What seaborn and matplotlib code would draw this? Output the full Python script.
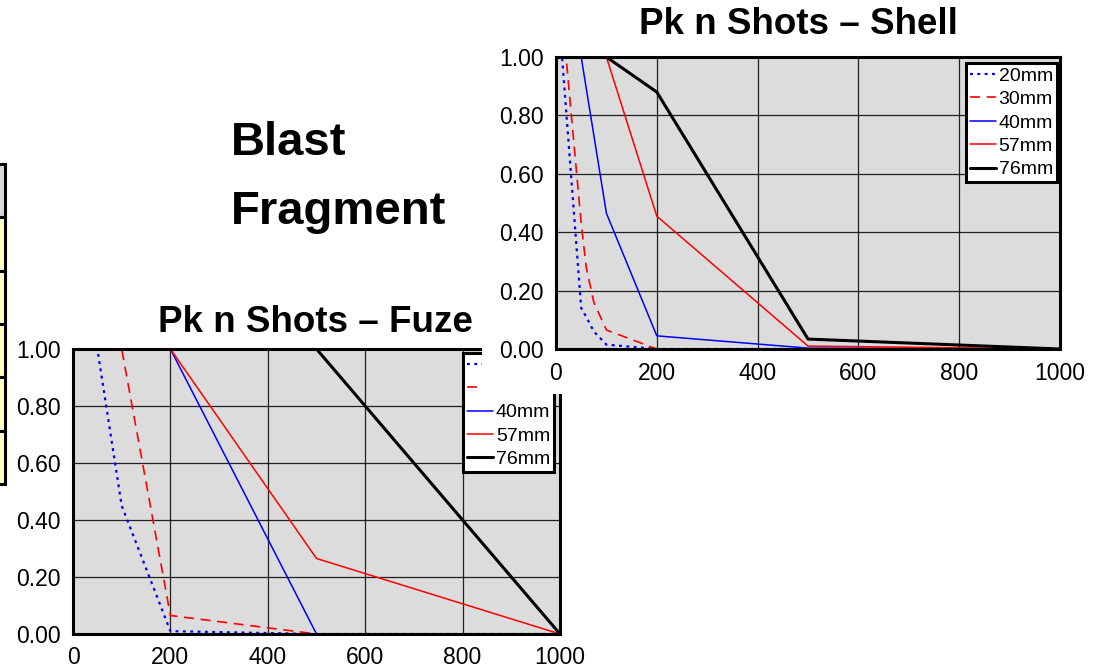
import matplotlib

matplotlib.use("Agg")
import matplotlib.patches as mpatches
import matplotlib.pyplot as plt
import seaborn as sns

# Range (m) vs Pk for n shots.
calibres = ["20mm", "30mm", "40mm", "57mm", "76mm"]

fuze_20mm_x = [0, 50, 100, 200, 500, 1000]
fuze_20mm_pk = [1.00, 1.00, 0.45, 0.01, 0.00, 0.00]
fuze_30mm_x = [0, 100, 200, 500, 1000]
fuze_30mm_pk = [1.00, 1.00, 0.065, 0.00, 0.00]
fuze_40mm_x = [0, 200, 500, 1000]
fuze_40mm_pk = [1.00, 1.00, 0.00, 0.00]
fuze_57mm_x = [0, 200, 500, 1000]
fuze_57mm_pk = [1.00, 1.00, 0.265, 0.00]
fuze_76mm_x = [0, 500, 1000]
fuze_76mm_pk = [1.00, 1.00, 0.00]

shell_20mm_x = [0, 12, 50, 60, 75, 100, 200, 500, 1000]
shell_20mm_pk = [1.00, 1.00, 0.14, 0.11, 0.06, 0.015, 0.00, 0.00, 0.00]
shell_30mm_x = [0, 20, 50, 60, 75, 100, 200, 500, 1000]
shell_30mm_pk = [1.00, 1.00, 0.43, 0.28, 0.16, 0.065, 0.00, 0.00, 0.00]
shell_40mm_x = [0, 50, 100, 200, 500, 1000]
shell_40mm_pk = [1.00, 1.00, 0.465, 0.045, 0.003, 0.00]
shell_57mm_x = [0, 100, 200, 500, 1000]
shell_57mm_pk = [1.00, 1.00, 0.455, 0.01, 0.00]
shell_76mm_x = [0, 100, 200, 500, 1000]
shell_76mm_pk = [1.00, 1.00, 0.88, 0.034, 0.00]

x_ticks = [0, 200, 400, 600, 800, 1000]
y_ticks = [0.0, 0.2, 0.4, 0.6, 0.8, 1.0]

fuze_series = [
    (fuze_20mm_x, fuze_20mm_pk),
    (fuze_30mm_x, fuze_30mm_pk),
    (fuze_40mm_x, fuze_40mm_pk),
    (fuze_57mm_x, fuze_57mm_pk),
    (fuze_76mm_x, fuze_76mm_pk),
]
shell_series = [
    (shell_20mm_x, shell_20mm_pk),
    (shell_30mm_x, shell_30mm_pk),
    (shell_40mm_x, shell_40mm_pk),
    (shell_57mm_x, shell_57mm_pk),
    (shell_76mm_x, shell_76mm_pk),
]

line_styles = {
    "20mm": {"color": "#0000FF", "lw": 1.6, "dashes": (1.3, 2.0)},
    "30mm": {"color": "#FF0000", "lw": 1.2, "dashes": (6.0, 4.0)},
    "40mm": {"color": "#0000FF", "lw": 1.1, "dashes": None},
    "57mm": {"color": "#FF0000", "lw": 1.1, "dashes": None},
    "76mm": {"color": "#000000", "lw": 2.2, "dashes": None},
}

W, H = 1104, 671


def px_box(x0, y0, x1, y1):
    # pixel box (top-left origin) -> figure fraction [left, bottom, width, height]
    return [x0 / W, 1 - y1 / H, (x1 - x0) / W, (y1 - y0) / H]


sns.set_theme(style="ticks")
plt.rcParams["font.family"] = ["Liberation Sans", "DejaVu Sans"]

fig = plt.figure(figsize=(W / 100, H / 100), dpi=100)
fig.patch.set_facecolor("white")


def draw_chart(ax, series, legend_anchor):
    ax.set_facecolor("#DCDCDC")
    for name, (xs, ys) in zip(calibres, series):
        st = line_styles[name]
        line_ax = sns.lineplot(
            x=xs, y=ys, ax=ax, color=st["color"], lw=st["lw"], label=name,
            estimator=None, sort=False, clip_on=True,
        )
        line = line_ax.get_lines()[-1]
        if st["dashes"] is not None:
            line.set_dashes(st["dashes"])
    ax.set_xlim(0, 1000)
    ax.set_ylim(0, 1)
    ax.set_xticks(x_ticks)
    ax.set_yticks(y_ticks)
    ax.set_xticklabels([str(t) for t in x_ticks])
    ax.set_yticklabels(["{:.2f}".format(t) for t in y_ticks])
    ax.grid(True, color="#000000", lw=0.9, alpha=0.85)
    ax.tick_params(length=0, labelsize=16.5, colors="#000000", pad=9)
    for sp in ax.spines.values():
        sp.set_visible(True)
        sp.set_color("#000000")
        sp.set_linewidth(2.2)
    ax.set_xlabel("")
    ax.set_ylabel("")
    leg = ax.legend(
        loc="upper right", bbox_to_anchor=legend_anchor, fontsize=14,
        frameon=True, fancybox=False, framealpha=1.0, borderpad=0.2,
        labelspacing=0.3, handlelength=1.35, handletextpad=0.15,
        borderaxespad=0.0,
    )
    leg.get_frame().set_edgecolor("#000000")
    leg.get_frame().set_linewidth(2.2)
    leg.get_frame().set_facecolor("white")
    for t in leg.get_texts():
        t.set_color("#000000")


# Fuze chart (lower left)
ax_fuze = fig.add_axes(px_box(73, 349, 560, 634))
ax_fuze.set_zorder(0)
draw_chart(ax_fuze, fuze_series, (0.988, 0.986))

# white panel of the Shell chart laid over the Fuze chart
fig.patches.append(
    mpatches.Rectangle(
        (482 / W, 1 - 394 / H), 1 - 482 / W, 394 / H,
        transform=fig.transFigure, facecolor="white", edgecolor="none",
        zorder=1,
    )
)

# Shell chart (upper right)
ax_shell = fig.add_axes(px_box(556, 57, 1060, 349))
ax_shell.set_zorder(2)
draw_chart(ax_shell, shell_series, (0.994, 0.979))

fig.text(798 / W, 1 - 25 / H, "Pk n Shots \u2013 Shell", ha="center",
         va="center", fontsize=26.5, fontweight="bold", color="#000000")
fig.text(315 / W, 1 - 322 / H, "Pk n Shots \u2013 Fuze", ha="center",
         va="center", fontsize=26.5, fontweight="bold", color="#000000",
         zorder=3)

fig.text(231 / W, 1 - 143 / H, "Blast", ha="left", va="center",
         fontsize=34, fontweight="bold", color="#000000")
fig.text(231 / W, 1 - 212 / H, "Fragment", ha="left", va="center",
         fontsize=34, fontweight="bold", color="#000000")

# edge of a table cut off at the left of the slide
row_edges = [164, 217, 271, 324, 377, 431, 484]
for k in range(len(row_edges) - 1):
    top, bottom = row_edges[k], row_edges[k + 1]
    fig.patches.append(
        mpatches.Rectangle(
            (-10 / W, 1 - bottom / H), 15 / W, (bottom - top) / H,
            transform=fig.transFigure,
            facecolor="#D9D9D9" if k == 0 else "#FFFFCC",
            edgecolor="#000000", lw=2.2, zorder=1,
        )
    )

fig.savefig("out.png", dpi=100)
plt.close()
